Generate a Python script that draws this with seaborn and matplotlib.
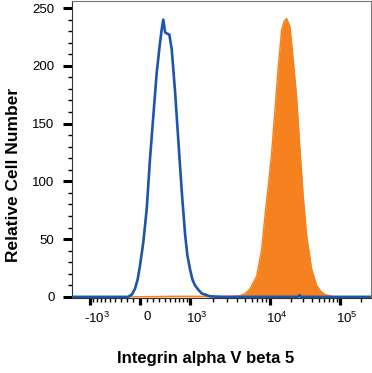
import numpy as np
import pandas as pd
import matplotlib
matplotlib.use("Agg")
import matplotlib.pyplot as plt
import matplotlib.transforms as mtrans
import seaborn as sns

# 데이터
blue_x = [-1725, -179, -120, -74, -35, 0, 48, 99, 148, 199, 254, 309, 340, 366, 400, 430, 481, 530,
          603, 680, 766, 857, 920, 1000, 1080, 1168, 1300, 1430, 1825, 2500, 25000, 26500, 28000, 277000]
blue_y = [0, 0, 2, 7, 15, 27, 47, 76, 119, 156, 194, 220, 232, 240, 229, 228, 227, 214,
          177, 134, 90, 53, 36, 24, 15, 10, 6, 3, 0.5, 0, 0, 1.5, 0, 0]

orange_x = [-150, 500, 2000, 3500, 4300, 5000, 5700, 6880, 7920, 8690, 9540, 10580, 11790,
            13140, 14700, 16000, 17320, 19310, 21520, 24070, 26830, 29900, 33450, 39430,
            46470, 53000, 61050, 84300]
orange_y = [0, 0.5, 0.5, 0.5, 1, 3, 7, 18, 41, 70, 96, 125, 162,
            199, 231, 239, 241, 234, 205, 173, 128, 87, 53, 24,
            10, 5, 2, 0]

major_ticks = [-1e3, 0, 1e3, 1e4, 1e5]
major_labels = ["-$10^{3}$", "0", "$10^{3}$", "$10^{4}$", "$10^{5}$"]
minor_ticks = (list(range(-900, 0, 100)) + list(range(100, 1000, 100))
               + list(range(2000, 10000, 1000)) + list(range(20000, 100000, 10000))
               + [200000])

BLUE = "#1c56a8"
ORANGE = "#f5821f"

# 바이엑스포넨셜 비슷한 x축 변환
C = 520
anchor_vals = np.array([-1e4, -1e3, 0, 1e3, 1e4, 1e5, 1e6])
anchor_pos = np.array([10, 90, 140, 190, 270, 340, 410.0])
anchor_u = np.arcsinh(anchor_vals / C)

def fwd(x):
    return np.interp(np.arcsinh(np.asarray(x, dtype=float) / C), anchor_u, anchor_pos)

def inv(p):
    return C * np.sinh(np.interp(np.asarray(p, dtype=float), anchor_pos, anchor_u))

sns.set_theme(style="ticks")
plt.rcParams['font.family'] = ['Liberation Sans', 'DejaVu Sans']
plt.rcParams['mathtext.default'] = 'regular'
plt.rcParams['text.color'] = 'black'
plt.rcParams['axes.labelcolor'] = 'black'

df_blue = pd.DataFrame({'x': blue_x, 'count': blue_y})
df_orange = pd.DataFrame({'x': orange_x, 'count': orange_y})

fig = plt.figure(figsize=(3.72, 3.73), dpi=100)
ax = fig.add_axes([0.1935, 0.201, 0.8035, 0.796])
ax.set_xscale('function', functions=(fwd, inv))

ax.fill_between(df_orange['x'], df_orange['count'], color=ORANGE, lw=0, zorder=2)
sns.lineplot(data=df_orange, x='x', y='count', color=ORANGE, lw=1.0, ax=ax, zorder=2)
sns.lineplot(data=df_blue, x='x', y='count', color=BLUE, lw=1.9, ax=ax, zorder=3)

ax.set_xlim(-1725, 277000)
ax.set_ylim(-1, 256)

ax.set_xticks(major_ticks)
ax.set_xticklabels(major_labels)
ax.set_xticks(minor_ticks, minor=True)
ax.set_yticks([0, 50, 100, 150, 200, 250])
ax.set_yticks(range(10, 256, 10), minor=True)

ax.tick_params(axis='both', which='major', direction='out', color='black',
               labelsize=9.5, labelcolor='black')
ax.tick_params(axis='x', which='major', length=5, width=2.3, pad=4)
ax.tick_params(axis='x', which='minor', length=3, width=1.0, color='black')
ax.tick_params(axis='y', which='major', length=6.5, width=2.2, pad=6)
ax.tick_params(axis='y', which='minor', length=3, width=1.0, color='black')

# x 눈금 라벨을 약간 오른쪽으로
offset = mtrans.ScaledTranslation(5 / 72, 0, fig.dpi_scale_trans)
for lbl in ax.get_xticklabels():
    lbl.set_transform(lbl.get_transform() + offset)

for side in ['top', 'right']:
    ax.spines[side].set_color('#777777')
    ax.spines[side].set_linewidth(0.8)
for side in ['left', 'bottom']:
    ax.spines[side].set_color('#333333')
    ax.spines[side].set_linewidth(0.8)

ax.set_xlabel('Integrin alpha V beta 5', fontsize=12, fontweight='bold',
              family=['Liberation Sans Narrow', 'Liberation Sans'], va='center')
ax.set_ylabel('Relative Cell Number', fontsize=12.5, fontweight='bold', va='center')
ax.xaxis.set_label_coords(0.448, -0.202)
ax.yaxis.set_label_coords(-0.197, 0.414)

fig.savefig('out.png', dpi=100)
